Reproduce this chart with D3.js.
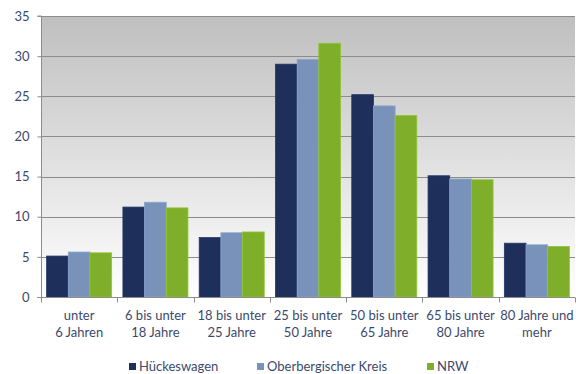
<!DOCTYPE html>
<html>
<head>
<meta charset="utf-8">
<script src="https://cdn.jsdelivr.net/npm/d3@7"></script>
<style>
  html, body { margin: 0; padding: 0; background: #fff; }
  svg { display: block; }
  text { font-family: Lato, "Open Sans", sans-serif; fill: #3b4a6b; }
</style>
</head>
<body>
<svg id="chart" width="576" height="374"></svg>
<script>
// Altersgruppen (Anteil in %)
const categories = [
  ["unter", "6 Jahren"],
  ["6 bis unter", "18 Jahre"],
  ["18 bis unter", "25 Jahre"],
  ["25 bis unter", "50 Jahre"],
  ["50 bis unter", "65 Jahre"],
  ["65 bis unter", "80 Jahre"],
  ["80 Jahre und", "mehr"]
];
const seriesNames = ["Hückeswagen", "Oberbergischer Kreis", "NRW"];
const hueckeswagen = [5.1, 11.2, 7.4, 29.0, 25.2, 15.1, 6.7];
const oberberg     = [5.6, 11.8, 8.0, 29.6, 23.8, 14.7, 6.5];
const nrw          = [5.5, 11.1, 8.1, 31.6, 22.6, 14.6, 6.3];
const seriesValues = [hueckeswagen, oberberg, nrw];
const seriesColors = ["#1f2f5c", "#7892b9", "#7fae2a"];
const yTicks = [0, 5, 10, 15, 20, 25, 30, 35];

const svg = d3.select("#chart");
const plotLeft = 41, plotRight = 575, plotTop = 16, plotBottom = 297;

const x = d3.scaleBand().domain(d3.range(categories.length)).range([plotLeft, plotRight]).padding(0);
const xs = d3.scaleBand().domain(d3.range(seriesNames.length)).range([0, x.bandwidth()])
  .paddingInner(0).paddingOuter(0.26);
const y = d3.scaleLinear().domain([0, 35]).range([plotBottom, plotTop]);

// plot background gradient
const defs = svg.append("defs");
const grad = defs.append("linearGradient").attr("id", "bg").attr("x1", 0).attr("y1", 0).attr("x2", 0).attr("y2", 1);
grad.append("stop").attr("offset", "0%").attr("stop-color", "#bfbfbf");
grad.append("stop").attr("offset", "100%").attr("stop-color", "#ffffff");
svg.append("rect").attr("x", plotLeft).attr("y", plotTop)
  .attr("width", plotRight - plotLeft).attr("height", plotBottom - plotTop)
  .attr("fill", "url(#bg)");

// gridlines
svg.append("g").selectAll("line").data(yTicks.filter(d => d > 0)).join("line")
  .attr("x1", plotLeft).attr("x2", plotRight)
  .attr("y1", d => Math.round(y(d)) + 0.5).attr("y2", d => Math.round(y(d)) + 0.5)
  .attr("stroke", "#8c8c8c").attr("stroke-width", 1);

// bars
const groups = svg.append("g").selectAll("g").data(categories).join("g")
  .attr("transform", (d, i) => `translate(${x(i)},0)`);
groups.selectAll("rect").data((d, i) => seriesValues.map((s, k) => ({ k, v: s[i] }))).join("rect")
  .attr("x", d => xs(d.k))
  .attr("y", d => y(d.v))
  .attr("width", xs.bandwidth())
  .attr("height", d => y(0) - y(d.v))
  .attr("fill", d => seriesColors[d.k])
  .attr("stroke", d => d3.color(seriesColors[d.k]).brighter(0.35))
  .attr("stroke-width", 0.8);

// y axis
const yAxis = svg.append("g").attr("transform", `translate(${plotLeft + 0.5},0)`)
  .call(d3.axisLeft(y).tickValues(yTicks).tickSize(4).tickPadding(8));
yAxis.select(".domain").attr("stroke", "#8c8c8c").attr("d", `M-4,${plotTop}H0V${plotBottom}`);
yAxis.selectAll(".tick line").attr("stroke", "#8c8c8c");
yAxis.selectAll(".tick text").style("font-size", "13px").style("fill", "#3b4a6b")
  .style("font-family", "Lato, sans-serif");

// x axis
const xAxisG = svg.append("g").attr("transform", `translate(0,${plotBottom + 0.5})`);
xAxisG.append("line").attr("x1", plotLeft - 4).attr("x2", plotRight).attr("stroke", "#8c8c8c");
xAxisG.selectAll("line.tick").data(d3.range(categories.length + 1)).join("line")
  .attr("class", "tick")
  .attr("x1", i => Math.round(plotLeft + i * x.step()) + 0.5)
  .attr("x2", i => Math.round(plotLeft + i * x.step()) + 0.5)
  .attr("y1", 0).attr("y2", 5).attr("stroke", "#8c8c8c");

const labels = svg.append("g").selectAll("text").data(categories).join("text")
  .attr("x", (d, i) => x(i) + x.bandwidth() / 2)
  .attr("y", 320)
  .attr("text-anchor", "middle")
  .style("font-size", "13px");
labels.selectAll("tspan").data(d => d).join("tspan")
  .attr("x", function () { return d3.select(this.parentNode).attr("x"); })
  .attr("dy", (d, j) => j === 0 ? 0 : 17)
  .text(d => d);

// legend
const legendX = [129, 257, 427];
const legend = svg.append("g").selectAll("g").data(seriesNames).join("g")
  .attr("transform", (d, i) => `translate(${legendX[i]},363)`);
legend.append("rect").attr("width", 7).attr("height", 7).attr("fill", (d, i) => seriesColors[i]);
legend.append("text").attr("x", 10).attr("y", 7.5).style("font-size", "13px").text(d => d);
</script>
</body>
</html>
